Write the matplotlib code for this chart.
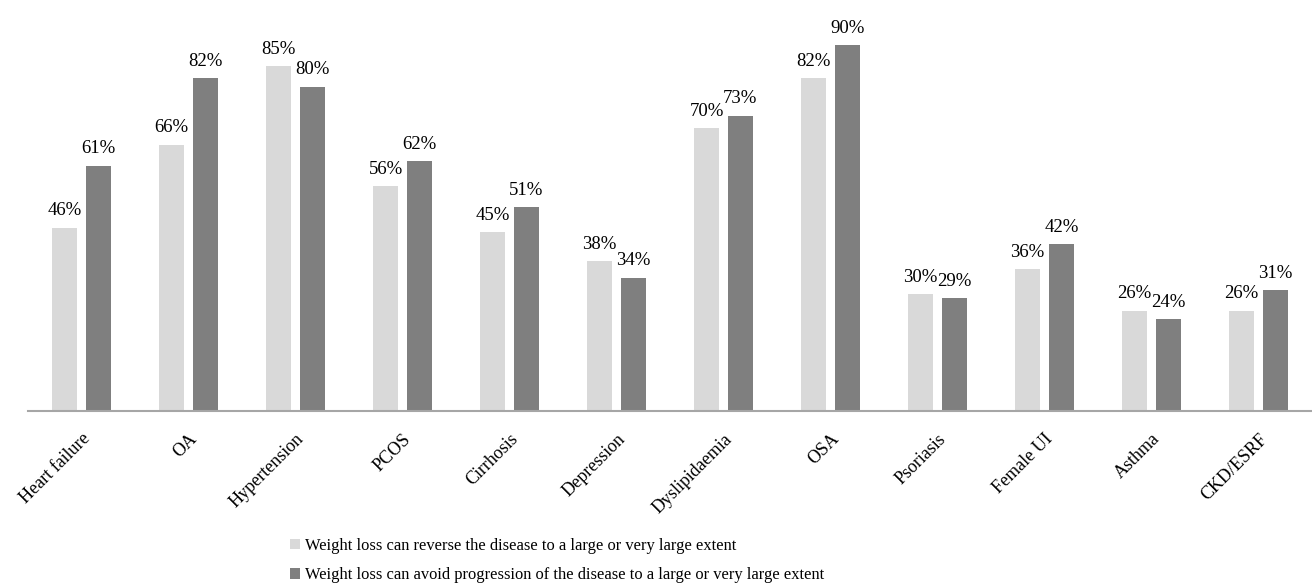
import matplotlib
matplotlib.use("Agg")
import matplotlib.pyplot as plt
import numpy as np

categories = ["Heart failure", "OA", "Hypertension", "PCOS", "Cirrhosis", "Depression",
              "Dyslipidaemia", "OSA", "Psoriasis", "Female UI", "Asthma", "CKD/ESRF"]
reverse = [46, 66, 85, 56, 45, 38, 70, 82, 30, 36, 26, 26]
avoid = [61, 82, 80, 62, 51, 34, 73, 90, 29, 42, 24, 31]
series_names = ["Weight loss can reverse the disease to a large or very large extent",
                "Weight loss can avoid progression of the disease to a large or very large extent"]

plt.rcParams['font.family'] = ['Liberation Serif', 'DejaVu Serif']

fig = plt.figure(figsize=(13.12, 5.84), dpi=100)
ax = fig.add_axes([28/1312, 173/584, 1 - 28/1312, 411/584])

x = np.arange(len(categories))
w = 0.24
gap = 0.075
light = "#d9d9d9"
dark = "#7f7f7f"
b1 = ax.bar(x - (w + gap)/2, reverse, w, color=light, label=series_names[0])
b2 = ax.bar(x + (w + gap)/2, avoid, w, color=dark, label=series_names[1])

for xs, vals in ((x - (w + gap)/2, reverse), (x + (w + gap)/2, avoid)):
    for xi, v in zip(xs, vals):
        ax.annotate(f"{v}%", (xi, v), xytext=(0, 6), textcoords='offset points',
                    ha='center', va='bottom', fontsize=13.5)

ax.set_xlim(-0.5, len(categories) - 0.5)
ax.set_ylim(1.83, 100.9)
for s in ['top', 'right', 'left']:
    ax.spines[s].set_visible(False)
ax.spines['bottom'].set_color("#a6a6a6")
ax.spines['bottom'].set_linewidth(1.5)
ax.set_yticks([])
ax.set_xticks(x)
ax.set_xticklabels(categories, rotation=45, ha='right', rotation_mode='anchor', fontsize=13)
ax.tick_params(axis='x', length=0, pad=14)

fig.legend(handles=[b1, b2], labels=series_names, loc='upper left',
           bbox_to_anchor=(290/1312, 1 - 538/584), frameon=False, fontsize=11.9,
           handlelength=0.6, handleheight=0.6, handletextpad=0.3, labelspacing=0.8,
           borderaxespad=0, borderpad=0)

fig.savefig("out.png", dpi=100)
